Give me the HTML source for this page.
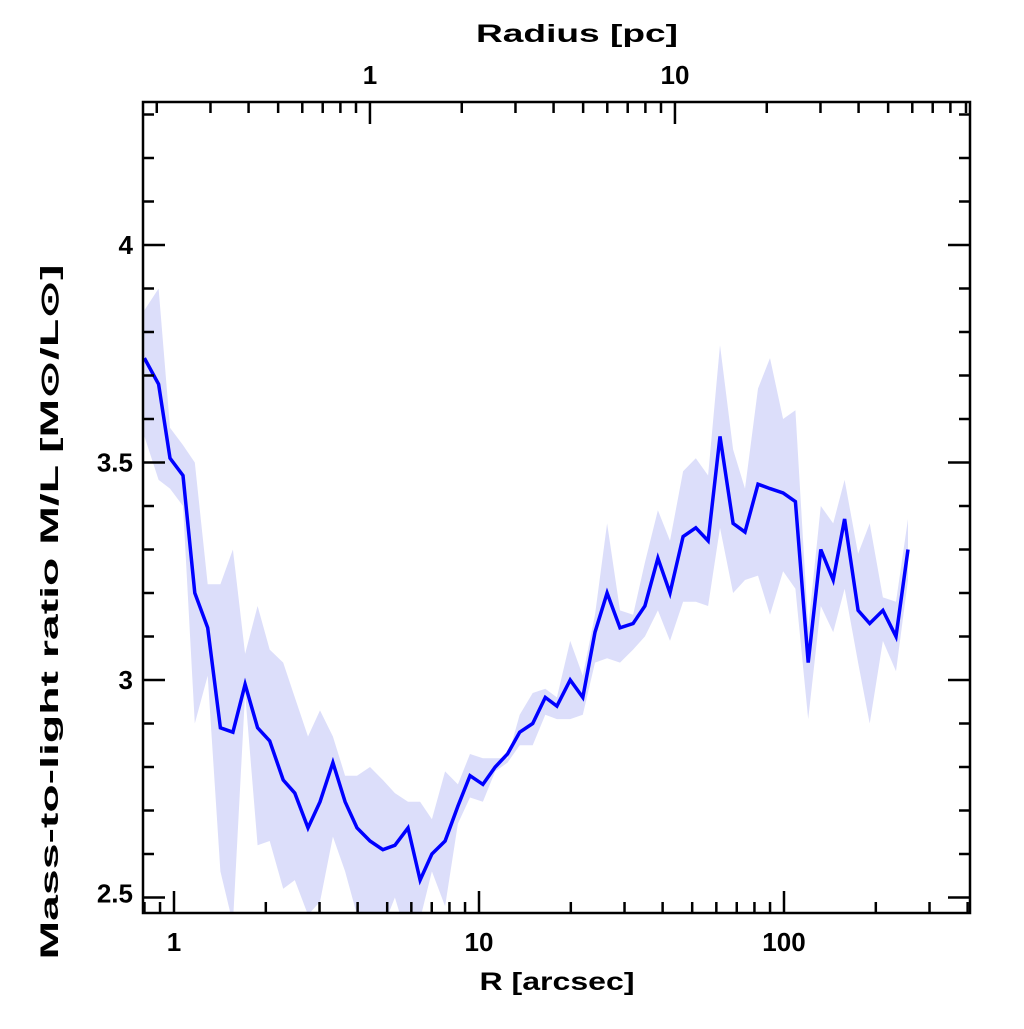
<!DOCTYPE html>
<html><head><meta charset="utf-8"><style>
html,body{margin:0;padding:0;background:#fff;}
svg text{font-family:"Liberation Sans",sans-serif;font-weight:bold;fill:#000;}
</style></head><body>
<svg id="chart" width="1024" height="1024" viewBox="0 0 1024 1024" xmlns="http://www.w3.org/2000/svg">
<defs><clipPath id="plotclip"><rect x="143" y="102" width="827" height="811"/></clipPath></defs>
<g id="band" clip-path="url(#plotclip)"></g>
<g id="line" clip-path="url(#plotclip)"></g>
<g id="axes"></g>
<rect x="143" y="102" width="827" height="811" fill="none" stroke="#000" stroke-width="2.5"/>
<text x="557" y="990" font-size="25" text-anchor="middle" textLength="155" lengthAdjust="spacingAndGlyphs">R [arcsec]</text>
<text x="577" y="42" font-size="25" text-anchor="middle" textLength="202" lengthAdjust="spacingAndGlyphs">Radius [pc]</text>
<text transform="translate(58,612) rotate(-90)" font-size="25" text-anchor="middle" textLength="695" lengthAdjust="spacingAndGlyphs">Mass-to-light ratio M/L [M⊙/L⊙]</text>
</svg>
<script>
const radiusArcsec=[0.80,0.89,0.97,1.07,1.17,1.29,1.42,1.56,1.71,1.88,2.06,2.28,2.49,2.75,3.01,3.32,3.64,3.98,4.39,4.84,5.30,5.85,6.41,7.01,7.74,8.53,9.34,10.3,11.3,12.4,13.6,15.0,16.5,18.0,19.9,21.9,24.0,26.3,29.0,32.0,35.0,38.6,42.3,46.7,51.4,56.4,61.7,68.1,74.5,82.2,90.0,99.3,109,120,132,145,158,175,191,211,233,255];
const mlValues=[3.74,3.68,3.51,3.47,3.20,3.12,2.89,2.88,2.99,2.89,2.86,2.77,2.74,2.66,2.72,2.81,2.72,2.66,2.63,2.61,2.62,2.66,2.54,2.60,2.63,2.71,2.78,2.76,2.80,2.83,2.88,2.90,2.96,2.94,3.00,2.96,3.11,3.20,3.12,3.13,3.17,3.28,3.20,3.33,3.35,3.32,3.56,3.36,3.34,3.45,3.44,3.43,3.41,3.04,3.30,3.23,3.37,3.16,3.13,3.16,3.10,3.30];
const mlUpper=[3.85,3.90,3.58,3.54,3.50,3.22,3.22,3.30,3.06,3.17,3.07,3.04,2.96,2.87,2.93,2.87,2.78,2.78,2.80,2.77,2.74,2.72,2.72,2.68,2.79,2.76,2.83,2.82,2.82,2.82,2.92,2.97,2.98,2.96,3.09,3.01,3.15,3.36,3.16,3.15,3.27,3.39,3.32,3.48,3.51,3.47,3.77,3.53,3.44,3.67,3.74,3.60,3.62,3.12,3.40,3.36,3.46,3.29,3.36,3.19,3.18,3.37];
const mlLower=[3.56,3.46,3.44,3.40,2.90,3.01,2.56,2.44,2.97,2.62,2.63,2.52,2.54,2.46,2.49,2.64,2.56,2.46,2.43,2.43,2.50,2.40,2.45,2.56,2.48,2.67,2.73,2.72,2.79,2.81,2.85,2.85,2.92,2.91,2.91,2.92,3.04,3.05,3.04,3.07,3.10,3.16,3.09,3.18,3.18,3.17,3.35,3.20,3.23,3.24,3.15,3.25,3.21,2.91,3.17,3.11,3.21,3.04,2.90,3.09,3.02,3.23];
const xTickLabels=["1","10","100"];
const xTickValues=[1,10,100];
const yTickValues=[2.5,3,3.5,4];
const yTickLabels=["2.5","3","3.5","4"];
const pcTickValues=[1,10];
const pcTickLabels=["1","10"];
const pcPerArcsec=1/4.39;

const NS="http://www.w3.org/2000/svg";
const X0=143,X1=970,Y0=102,Y1=913;
function xs(v){return 174+305*Math.log10(v);}
function ys(v){return 245-(v-4)*435;}
function xpc(pc){return xs(pc/pcPerArcsec);}
function mk(tag,attrs,parent){const e=document.createElementNS(NS,tag);for(const k in attrs)e.setAttribute(k,attrs[k]);parent.appendChild(e);return e;}

const band=document.getElementById('band');
let d='';
radiusArcsec.forEach((r,i)=>{d+=(i?'L':'M')+xs(r).toFixed(1)+','+ys(mlUpper[i]).toFixed(1);});
for(let i=radiusArcsec.length-1;i>=0;i--){d+='L'+xs(radiusArcsec[i]).toFixed(1)+','+ys(mlLower[i]).toFixed(1);}
const bp=mk('path',{d:d+'Z',fill:'#dcdefa',stroke:'none'},band);



const lg=document.getElementById('line');
const pts=radiusArcsec.map((r,i)=>xs(r).toFixed(1)+','+ys(mlValues[i]).toFixed(1)).join(' ');
const pl=mk('polyline',{points:pts,fill:'none',stroke:'#0000ff','stroke-width':3.5,'stroke-linejoin':'miter'},lg);



const ax=document.getElementById('axes');
function tick(x1,y1,x2,y2,name){const t=mk('line',{x1:x1,y1:y1,x2:x2,y2:y2,stroke:'#000','stroke-width':2.5},ax);}
for(let k=25;k<=43;k++){const v=k/10;const y=ys(v);if(y<Y0||y>Y1)continue;const major=(k%5===0);const L=major?22:11;
tick(X0,y,X0+L,y,'y-tick');tick(X1,y,X1-L,y,'y-tick-right');}
yTickValues.forEach((v,i)=>{const t=mk('text',{x:133,y:ys(v)+(v===2.5?5:9),'font-size':26,'text-anchor':'end'},ax);t.textContent=yTickLabels[i];});
for(let dec=0.1;dec<=1000;dec*=10){for(let m=1;m<=9;m++){const v=dec*m;const x=xs(v);if(x<X0||x>X1)continue;const major=m===1;const L=major?22:11;tick(x,Y1,x,Y1-L,'x-tick');}}
xTickValues.forEach((v,i)=>{const t=mk('text',{x:xs(v),y:951,'font-size':26,'text-anchor':'middle'},ax);t.textContent=xTickLabels[i];});
for(let dec=0.01;dec<=1000;dec*=10){for(let m=1;m<=9;m++){const v=dec*m;const x=xpc(v);if(x<X0||x>X1)continue;const major=m===1;const L=major?22:11;tick(x,Y0,x,Y0+L,'top-tick');}}
pcTickValues.forEach((v,i)=>{const t=mk('text',{x:xpc(v),y:84,'font-size':26,'text-anchor':'middle'},ax);t.textContent=pcTickLabels[i];});
</script>
</body></html>
